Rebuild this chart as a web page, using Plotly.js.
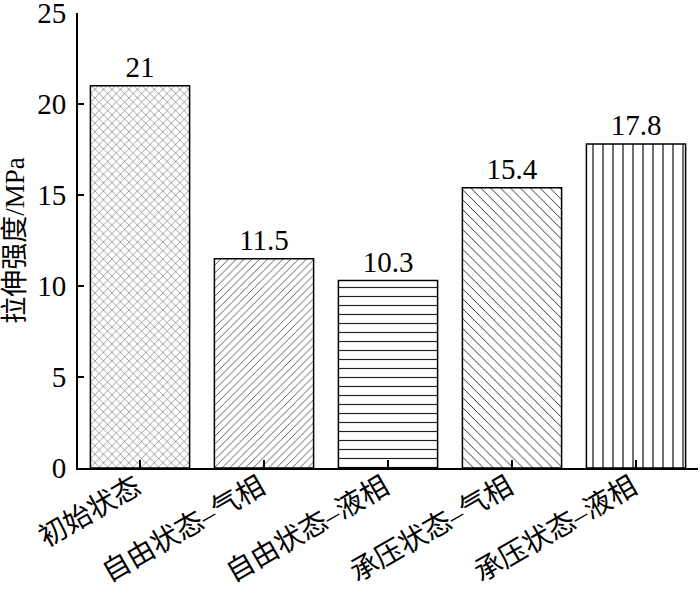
<!DOCTYPE html>
<html>
<head>
<meta charset="utf-8">
<script src="https://cdn.plot.ly/plotly-3.0.1.min.js"></script>
<style>html,body{margin:0;padding:0;background:#fff;}#chart{width:700px;height:596px;}</style>
</head>
<body>
<div id="chart"></div>
<script>
const categories = ["初始状态", "自由状态–气相", "自由状态–液相", "承压状态–气相", "承压状态–液相"];
const strengths = [21, 11.5, 10.3, 15.4, 17.8];
const barLabels = ["21", "11.5", "10.3", "15.4", "17.8"];
const yTickValues = [0, 5, 10, 15, 20, 25];
const patternShapes = ["x", "/", "-", "\\", "|"];
const patternSizes = [6, 5.5, 9, 7, 10];

const FONT = "'Liberation Serif', 'Times New Roman', 'Noto Sans CJK SC', serif";

const trace = {
  type: "bar",
  x: categories,
  y: strengths,
  text: barLabels,
  textposition: "outside",
  textfont: {family: FONT, size: 29, color: "#000"},
  cliponaxis: false,
  width: 0.8,
  marker: {
    color: "#fff",
    line: {color: "#000", width: 1.5},
    pattern: {
      shape: patternShapes,
      size: patternSizes,
      solidity: 0.13,
      fgcolor: "#222",
      bgcolor: "#fff",
      fillmode: "replace"
    }
  },
  hoverinfo: "none"
};

const layout = {
  width: 700,
  height: 596,
  margin: {l: 78, r: 2, t: 13, b: 128},
  paper_bgcolor: "#fff",
  plot_bgcolor: "#fff",
  showlegend: false,
  font: {family: FONT, color: "#000"},
  xaxis: {
    type: "category",
    range: [-0.5, 4.5],
    showline: true,
    linecolor: "#000",
    linewidth: 2,
    ticks: "inside",
    ticklen: 8,
    tickwidth: 1.5,
    tickcolor: "#000",
    tickangle: -30,
    ticklabelstandoff: -10,
    ticklabelshift: -4,
    tickfont: {family: FONT, size: 28, color: "#000"},
    showgrid: false,
    zeroline: false
  },
  yaxis: {
    range: [0, 25.001],
    tickvals: yTickValues,
    ticktext: yTickValues.map(String),
    showline: true,
    linecolor: "#000",
    linewidth: 2,
    ticks: "inside",
    ticklen: 6,
    tickwidth: 1.5,
    tickcolor: "#000",
    ticklabelstandoff: 4,
    ticklabeloverflow: "allow",
    tickfont: {family: FONT, size: 29, color: "#000"},
    showgrid: false,
    zeroline: false,
    title: {text: "拉伸强度/MPa", font: {family: FONT, size: 27, color: "#000"}, standoff: 6}
  }
};

Plotly.newPlot("chart", [trace], layout, {staticPlot: true, displayModeBar: false});
</script>
</body>
</html>
